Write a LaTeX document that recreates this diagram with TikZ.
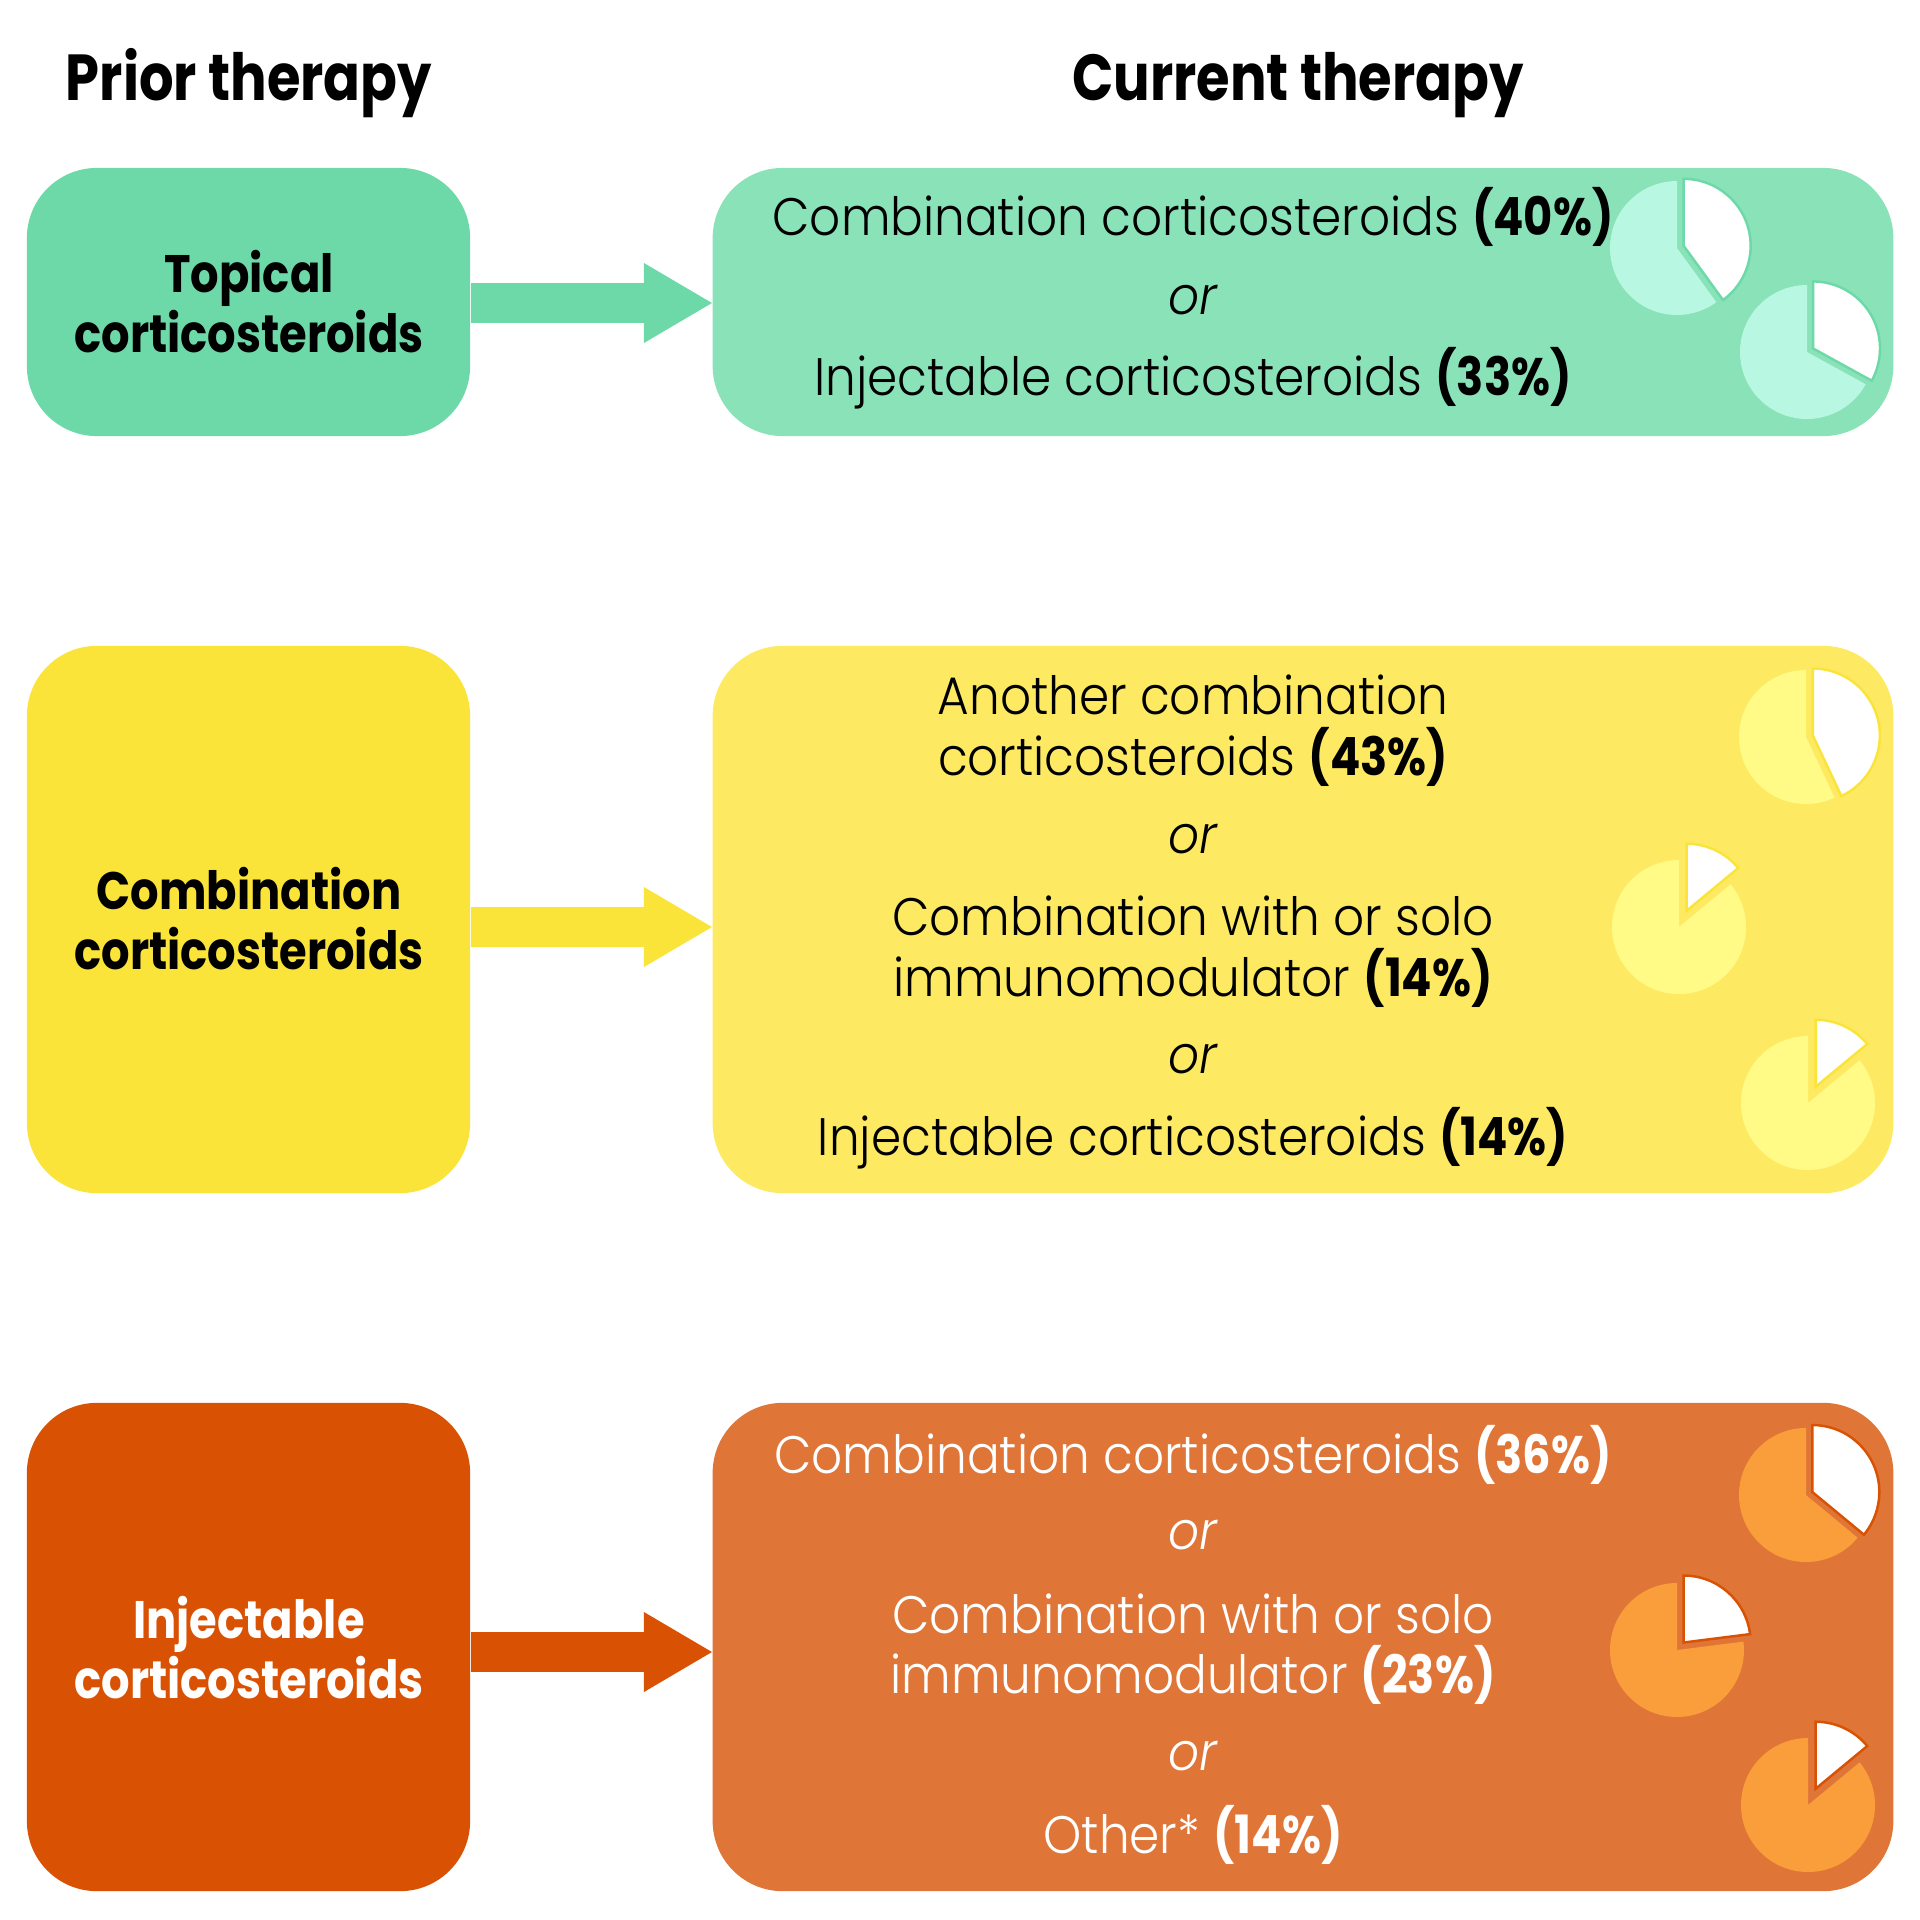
\documentclass[tikz,border=0pt]{standalone}
\usepackage{fontspec}
\IfFontExistsTF{Poppins Light}
  {\setmainfont{Poppins Light}[FakeStretch=0.92]}
  {\setmainfont{Poppins}[FakeStretch=0.91]}
\newfontfamily\pbfam{Poppins}[FakeStretch=0.85]
\newfontfamily\phfam{Poppins}[FakeStretch=0.835]
\newcommand{\bpart}[1]{{\pbfam\bfseries #1}}
\usetikzlibrary{arrows.meta}
\definecolor{gL}{HTML}{6DD9A8}
\definecolor{gR}{HTML}{8AE2B8}
\definecolor{gP}{HTML}{B8F7E2}
\definecolor{yL}{HTML}{FBE43A}
\definecolor{yR}{HTML}{FDEA62}
\definecolor{yP}{HTML}{FFFB86}
\definecolor{oL}{HTML}{D95204}
\definecolor{oR}{HTML}{E07538}
\definecolor{oP}{HTML}{F99E3A}
\newcommand{\pieshape}[6]{%
  \fill[#5] (#1,#2) -- ++(-90:67) arc[start angle=-90, end angle={360*#3-450}, radius=67] -- cycle;
  \begin{scope}[shift={({180*#3-90}:#4)}]
    \filldraw[fill=white, draw=#6, line width=0.7pt, line join=miter] (#1,#2) -- ++(-90:67) arc[start angle=-90, end angle={360*#3-90}, radius=67] -- cycle;
  \end{scope}}
\begin{document}
\begin{tikzpicture}[x=0.01cm, y=-0.01cm,
  box/.style={rectangle, rounded corners=0.7cm, inner sep=0pt, draw=none},
  lbox/.style={box, minimum width=4.43cm},
  rbox/.style={box, minimum width=11.80cm},
  txt/.style={anchor=base, inner sep=0pt, font=\fontsize{15}{18}\selectfont},
  ltxt/.style={anchor=base, inner sep=0pt, font=\fontsize{15}{18}\selectfont\pbfam\bfseries},
  head/.style={anchor=base, inner sep=0pt, font=\fontsize{18.5}{22}\selectfont\phfam\bfseries},
  arr/.style={line width=0.4cm, -{Triangle[length=0.68cm, width=0.8cm, line width=0pt]}}]
\useasboundingbox (0,0) rectangle (1920,1920);

% headings
\node[head] (h1) at (249,100) {Prior therapy};
\node[head] (h2) at (1298,100) {Current therapy};

% boxes
\node[lbox, fill=gL, minimum height=2.68cm] (L1) at (248.5,302) {};
\node[rbox, fill=gR, minimum height=2.68cm] (R1) at (1303,302) {};
\node[lbox, fill=yL, minimum height=5.47cm] (L2) at (248.5,919.5) {};
\node[rbox, fill=yR, minimum height=5.47cm] (R2) at (1303,919.5) {};
\node[lbox, fill=oL, minimum height=4.88cm] (L3) at (248.5,1647) {};
\node[rbox, fill=oR, minimum height=4.88cm] (R3) at (1303,1647) {};

% arrows
\draw[arr, gL] (L1.east |- 0,303) -- (R1.west |- 0,303);
\draw[arr, yL] (L2.east |- 0,927) -- (R2.west |- 0,927);
\draw[arr, oL] (L3.east |- 0,1652) -- (R3.west |- 0,1652);

% left texts
\node[ltxt] (l1a) at (249,292) {Topical};
\node[ltxt] (l1b) at (249,352) {corticosteroids};
\node[ltxt] (l2a) at (249,909) {Combination};
\node[ltxt] (l2b) at (249,969) {corticosteroids};
\node[ltxt, text=white] (l3a) at (249,1638) {Injectable};
\node[ltxt, text=white] (l3b) at (249,1698) {corticosteroids};

% pies row 1
\pieshape{1677}{248}{0.40}{7}{gP}{gL}
\pieshape{1807}{352}{0.33}{7}{gP}{gL}
% pies row 2
\pieshape{1806}{737}{0.43}{7}{yP}{yL}
\pieshape{1679}{927}{0.14}{18}{yP}{yL}
\pieshape{1808}{1103}{0.14}{18}{yP}{yL}
% pies row 3
\pieshape{1806}{1495}{0.36}{7}{oP}{oL}
\pieshape{1677}{1650}{0.23}{10}{oP}{oL}
\pieshape{1808}{1805}{0.14}{18}{oP}{oL}

% right texts row 1
\node[txt] (r1a) at (1193,235) {Combination corticosteroids \bpart{(40\%)}};
\node[txt] (r1b) at (1193,314) {\itshape or};
\node[txt] (r1c) at (1193,395) {Injectable corticosteroids \bpart{(33\%)}};
% row 2
\node[txt] (r2a) at (1193,714) {Another combination};
\node[txt] (r2b) at (1193,775) {corticosteroids \bpart{(43\%)}};
\node[txt] (r2c) at (1193,853) {\itshape or};
\node[txt] (r2d) at (1193,935) {Combination with or solo};
\node[txt] (r2e) at (1193,996) {immunomodulator \bpart{(14\%)}};
\node[txt] (r2f) at (1193,1073) {\itshape or};
\node[txt] (r2g) at (1193,1155) {Injectable corticosteroids \bpart{(14\%)}};
% row 3
\begin{scope}[every node/.append style={text=white}]
\node[txt] (r3a) at (1193,1473) {Combination corticosteroids \bpart{(36\%)}};
\node[txt] (r3b) at (1193,1549) {\itshape or};
\node[txt] (r3c) at (1193,1633) {Combination with or solo};
\node[txt] (r3d) at (1193,1693) {immunomodulator \bpart{(23\%)}};
\node[txt] (r3e) at (1193,1770) {\itshape or};
\node[txt] (r3f) at (1193,1853) {Other* \bpart{(14\%)}};
\end{scope}
\end{tikzpicture}
\end{document}
